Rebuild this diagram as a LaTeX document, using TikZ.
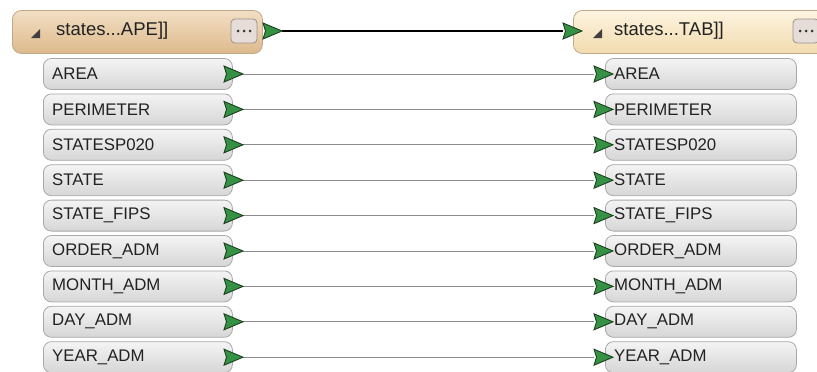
\documentclass[tikz,border=0pt]{standalone}
\usepackage{fontspec}
\setmainfont{Liberation Sans}
\definecolor{txt}{HTML}{222222}
\definecolor{attrtop}{HTML}{F4F4F4}
\definecolor{attrbot}{HTML}{D6D6D6}
\definecolor{attrline}{HTML}{A8A8A8}
\definecolor{lhtop}{HTML}{F2DFC4}
\definecolor{lhbot}{HTML}{DDB98C}
\definecolor{rhtop}{HTML}{FDF4E0}
\definecolor{rhbot}{HTML}{F2DBAE}
\definecolor{hline}{HTML}{C0A888}
\definecolor{btnfill}{HTML}{E6DDD9}
\definecolor{btnline}{HTML}{9C908A}
\definecolor{gfill}{HTML}{359245}
\definecolor{gdraw}{HTML}{1C3F20}
\definecolor{conn}{HTML}{8C8C8C}
\begin{document}
\begin{tikzpicture}[x=1pt,y=-1pt,
  attrbox/.style={draw=attrline, line width=0.8pt, rounded corners=8pt,
    top color=attrtop, bottom color=attrbot, minimum width=189pt, minimum height=31pt,
    anchor=west, inner sep=0pt},
  attrtext/.style={anchor=west, inner sep=0pt, text=txt, font=\fontsize{16.8}{18}\selectfont},
  hdrbox/.style={draw=hline, line width=0.8pt, rounded corners=9pt, minimum height=43pt,
    anchor=west, inner sep=0pt},
  hdrtext/.style={anchor=west, inner sep=0pt, text=txt, font=\fontsize{18.5}{20}\selectfont},
  btn/.style={draw=btnline, line width=0.8pt, rounded corners=4pt, fill=btnfill,
    minimum width=26pt, minimum height=24pt, inner sep=0pt},
  garrowstyle/.style={fill=gfill, draw=gdraw, line width=0.9pt, line join=miter},
  attrconn/.style={draw=conn, line width=0.8pt},
  hdrconn/.style={draw=black, line width=2.2pt},
  garrow/.pic={\draw[garrowstyle] (0,-8) -- (19,0) -- (0,8) -- (2.5,0) -- cycle;},
  collapse/.pic={\fill[black!75] (0,5) -- (9,-4) -- (9,5) -- cycle;},
  dots/.pic={\foreach \d in {-6,0,6} \fill[black!80] (\d,0) circle (1.5pt);}
]
\useasboundingbox (0,0) rectangle (817,372);
\begin{scope}
\clip (0,0) rectangle (817,372);
% headers
\node[hdrbox, minimum width=250pt, top color=lhtop, bottom color=lhbot] (LH) at (12,32) {};
\node[hdrbox, minimum width=260pt, top color=rhtop, bottom color=rhbot] (RH) at (573,32) {};
\pic at (31,33) {collapse};
\pic at (593,33) {collapse};
\node[hdrtext] (LHT) at (56,31) {states...APE]]};
\node[hdrtext] (RHT) at (614,31) {states...TAB]]};
\node[btn] (LB) at (244,31) {};
\node[btn] (RB) at (806,31) {};
\pic at (LB) {dots};
\pic at (RB) {dots};
\coordinate (lhtip) at (282,31);
\coordinate (rhbase) at (563,31);
\draw[hdrconn] (lhtip) -- (rhbase);
\pic at (263,31) {garrow};
\pic at (563,31) {garrow};
% attribute rows
\foreach \t [count=\i from 0] in {AREA,PERIMETER,STATESP020,STATE,STATE\_FIPS,ORDER\_ADM,MONTH\_ADM,DAY\_ADM,YEAR\_ADM}{
  \pgfmathsetmacro{\cy}{74+35.4*\i}
  \node[attrbox] (L\i) at (43,\cy) {};
  \node[attrbox, minimum width=191pt] (R\i) at (605,\cy) {};
  \node[attrtext] (LT\i) at (52,\cy) {\t};
  \node[attrtext] (RT\i) at (614,\cy) {\t};
  \coordinate (lt\i) at (243,\cy);
  \coordinate (rb\i) at (594,\cy);
  \draw[attrconn] (lt\i) -- (rb\i);
  \pic at (224,\cy) {garrow};
  \pic at (594,\cy) {garrow};
}
\end{scope}
\end{tikzpicture}
\end{document}
